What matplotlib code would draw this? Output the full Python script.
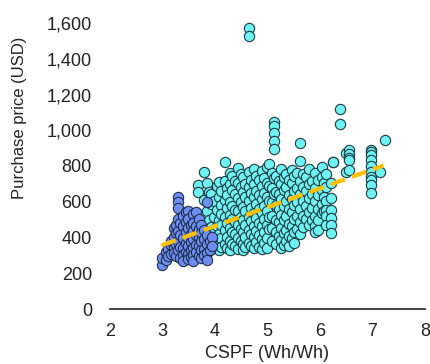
import numpy as np
import matplotlib
matplotlib.use("Agg")
import matplotlib.pyplot as plt

# ============================================================
# Data
# ============================================================

# Lower-efficiency units (blue), grouped by CSPF value
blue_cspf = [3.00, 3.06, 3.11, 3.16, 3.21, 3.26, 3.30, 3.34, 3.39, 3.44,
             3.49, 3.54, 3.59, 3.64, 3.69, 3.74, 3.79, 3.85, 3.90, 3.95]
blue_price = [
    [248, 286], [318, 272], [334, 297], [357, 383, 308],
    [342, 404, 452, 312], [423, 468, 362, 298],
    [627, 599, 565, 503, 437, 381, 329], [482, 413, 348, 287],
    [523, 462, 398, 342, 303, 268], [541, 488, 433, 372, 318],
    [547, 502, 452, 398, 353, 309, 277], [468, 421, 377, 331, 292],
    [532, 483, 438, 392, 343, 302, 268], [544, 463, 412, 358, 318],
    [502, 448, 403, 351, 298], [472, 423, 378, 332, 288],
    [441, 392, 338, 302], [600, 412, 362, 311, 272], [382, 331],
    [402, 352],
]

# Higher-efficiency units (cyan), grouped by CSPF value
cyan_cspf = [3.68, 3.79, 3.84, 3.88, 3.93, 3.98, 4.03, 4.07, 4.12, 4.19,
             4.23, 4.28, 4.33, 4.38, 4.44, 4.49, 4.53, 4.58, 4.65, 4.69,
             4.74, 4.79, 4.84, 4.89, 4.94, 5.00, 5.03, 5.08, 5.12, 5.16,
             5.21, 5.26, 5.31, 5.36, 5.41, 5.46, 5.51, 5.56, 5.62, 5.68,
             5.74, 5.79, 5.85, 5.91, 5.97, 6.03, 6.08, 6.12, 6.21, 6.25,
             6.39, 6.50, 6.56, 6.97, 7.14, 7.24]
cyan_price = [
    [694, 652], [766, 612, 468], [706, 548, 415], [655, 497, 372],
    [642, 585, 459, 338], [603, 512, 426, 377], [687, 556, 463, 352],
    [712, 628, 497, 418, 331], [661, 583, 531, 468, 396, 347],
    [824, 717, 608, 512, 441, 366], [676, 637, 566, 483, 405, 342],
    [763, 698, 596, 527, 455, 383, 328], [742, 668, 579, 502, 428, 361],
    [718, 645, 553, 487, 419, 352], [788, 703, 622, 546, 472, 398, 337],
    [757, 683, 598, 517, 447, 378], [736, 654, 571, 496, 432, 361, 329],
    [702, 627, 548, 468, 404, 346],
    [1572, 1527, 764, 681, 603, 516, 443, 372],
    [723, 648, 566, 492, 418, 353], [781, 697, 624, 537, 466, 401, 339],
    [744, 662, 588, 508, 437, 376], [719, 638, 561, 483, 412, 348],
    [772, 687, 613, 536, 462, 392, 334], [733, 651, 577, 503, 428, 367],
    [792, 706, 624, 548, 472, 398, 341], [811, 688, 603, 517, 446],
    [763, 679, 596, 522, 451, 383],
    [1048, 1024, 983, 940, 895, 733, 642],
    [742, 657, 583, 498, 428, 362], [718, 641, 557, 484, 407],
    [784, 702, 613, 528, 452, 388, 343], [738, 663, 578, 497, 423, 358],
    [757, 682, 603, 519, 441, 379], [722, 637, 562, 478, 408, 352],
    [779, 703, 618, 541, 463, 397], [742, 659, 582, 502, 428, 371],
    [761, 676, 598, 523, 447], [930, 828, 718, 641, 562, 487, 418],
    [757, 683, 604, 518, 458], [738, 662, 577, 503],
    [782, 697, 621, 543, 468], [718, 643, 564, 497],
    [762, 677, 602, 523, 462, 429], [722, 639, 558, 497, 441],
    [797, 741, 668, 588, 537], [703, 624, 548],
    [758, 683, 604, 553, 521, 472], [703, 619, 554, 507, 470, 423],
    [824, 820], [1117, 1033], [872, 766], [889, 867, 843, 833, 777],
    [890, 880, 862, 834, 800, 768, 740, 720, 694, 647], [768], [945],
]

# Linear trend line end points
trend_cspf = [2.98, 7.21]
trend_price = [356, 803]

yticks = [0, 200, 400, 600, 800, 1000, 1200, 1400, 1600]
xticks = [2, 3, 4, 5, 6, 7, 8]


def expand(cols, vals):
    x = np.repeat(cols, [len(v) for v in vals])
    y = np.concatenate([np.array(v, dtype=float) for v in vals])
    return x, y


bx, by = expand(blue_cspf, blue_price)
cx, cy = expand(cyan_cspf, cyan_price)

# ============================================================
# Plot
# ============================================================

plt.rcParams["font.family"] = ["Liberation Sans", "DejaVu Sans"]

fig = plt.figure(figsize=(4.31, 3.64), dpi=100)
ax = fig.add_axes([110 / 431, 55 / 364, 315 / 431, 286 / 364])

ax.scatter(cx, cy, s=55, color="#6EF2F2", edgecolor="#1f3b45",
           linewidth=0.8, clip_on=False, zorder=2)
ax.scatter(bx, by, s=55, color="#6D8EF0", edgecolor="#1f2f4f",
           linewidth=0.8, clip_on=False, zorder=3)
ax.plot(trend_cspf, trend_price, color="#FFC000", lw=3,
        linestyle=(0, (3.6, 1.8)), zorder=4)

ax.set_xlim(2, 8)
ax.set_ylim(0, 1600)
ax.set_xticks(xticks)
ax.set_yticks(yticks)
ax.set_yticklabels([f"{v:,}" for v in yticks])
ax.tick_params(axis="both", length=0, labelsize=13, colors="#222222")
ax.tick_params(axis="x", pad=10)
ax.tick_params(axis="y", pad=13)

for side in ["top", "right", "left"]:
    ax.spines[side].set_visible(False)
ax.spines["bottom"].set_color("#333333")
ax.spines["bottom"].set_linewidth(1.3)

ax.set_xlabel("CSPF (Wh/Wh)", fontsize=13, color="#222222", labelpad=4)
ax.set_ylabel("Purchase price (USD)", fontsize=12, color="#222222")
ax.yaxis.set_label_coords(-0.265, 0.67)

fig.savefig("out.png", dpi=100)
